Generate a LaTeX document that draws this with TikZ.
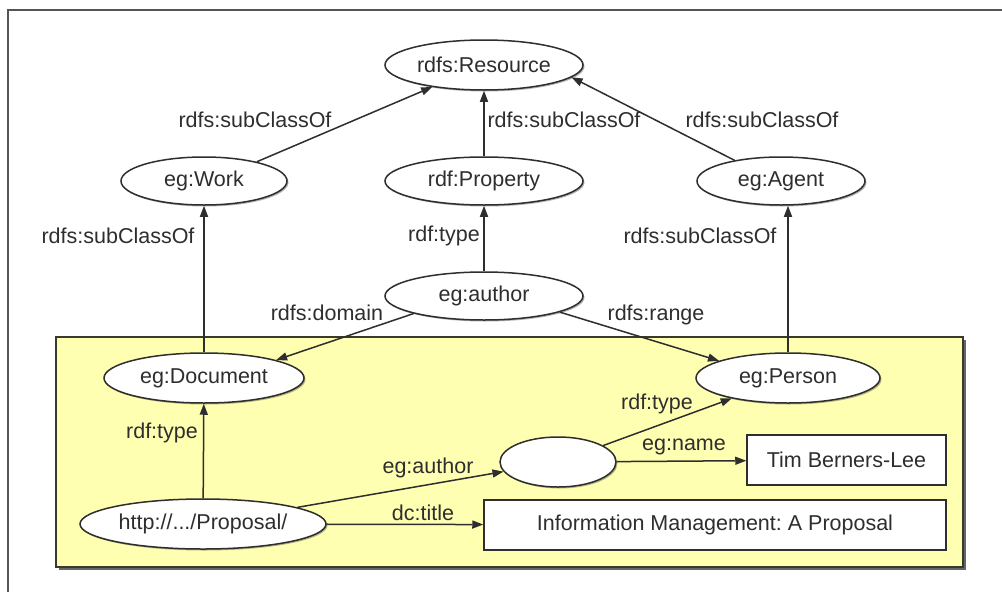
\documentclass[tikz,border=0pt]{standalone}
\usepackage{fontspec}
\setmainfont{Liberation Sans}
\usetikzlibrary{shapes.geometric,arrows.meta,shadows}
\definecolor{ink}{HTML}{2E2E2E}
\definecolor{frame}{HTML}{555555}
\definecolor{paleyellow}{HTML}{FFFFB2}
\definecolor{boxedge}{HTML}{3A3A2A}
\begin{document}
\frenchspacing
\begin{tikzpicture}[x=1pt,y=-1pt,
  font=\fontsize{21.5}{25}\selectfont,
  cls/.style={ellipse, draw=ink, line width=1.5pt, fill=white, text=ink, inner sep=0pt,
    drop shadow={shadow xshift=1.5pt, shadow yshift=-1.5pt, opacity=0.3, fill=black}},
  lit/.style={rectangle, draw=ink, line width=1.5pt, fill=white, text=ink, inner sep=0pt},
  lbl/.style={text=ink, inner sep=0pt},
  arr/.style={draw=ink, line width=1.5pt, -{Triangle[length=11pt,width=8pt]}}]
\useasboundingbox (0,0) rectangle (1002,592);
\fill[white] (0,0) rectangle (1002,592);
% outer frame
\draw[frame, line width=1.2pt] (8,592) -- (8,10) -- (1002,10);

% yellow graph area with its shadow
\fill[black!60] (59,340) rectangle (966,570);
\draw[draw=boxedge, line width=1.5pt, fill=paleyellow] (56,337) rectangle (963,567);

% classes and resources
\node[cls, minimum width=198pt, minimum height=50pt] (res) at (484,65) {rdfs:Resource};
\node[cls, minimum width=166pt, minimum height=48pt] (work) at (204,181) {eg:Work};
\node[cls, minimum width=198pt, minimum height=48pt] (prop) at (484,181) {rdf:Property};
\node[cls, minimum width=168pt, minimum height=48pt] (agent) at (781,181) {eg:Agent};
\node[cls, minimum width=198pt, minimum height=48pt] (author) at (484,296) {eg:author};
\node[cls, minimum width=200pt, minimum height=50pt] (doc) at (204,378) {eg:Document};
\node[cls, minimum width=184pt, minimum height=50pt] (person) at (788,378) {eg:Person};
\node[cls, minimum width=116pt, minimum height=50pt] (blank) at (558,462) {};
\node[cls, minimum width=246pt, minimum height=50pt] (url) at (203,524) {http://.../Proposal/};
\node[lit, minimum width=199pt, minimum height=50pt] (tim) at (846.5,460) {Tim Berners-Lee};
\node[lit, minimum width=462pt, minimum height=50pt] (info) at (715,525) {Information Management: A Proposal};

% schema edges
\draw[arr] (work.20) -- (res.203);
\draw[arr] (prop) -- (res);
\draw[arr] (agent.156) -- (res.-8);
\draw[arr] (doc) -- (work);
\draw[arr] (person.north) -- (person.north |- agent.south);
\draw[arr] (author) -- (prop);
\draw[arr] (author.194) -- (doc.14);
\draw[arr] (author.-12) -- (person.166);

% instance edges
\draw[arr] (url) -- (doc);
\draw[arr] (url.10) -- (blank.190);
\draw[arr] (url) -- (info);
\draw[arr] (blank.20) -- (person.200);
\draw[arr] (blank) -- (tim);

% edge labels
\node[lbl] (l1) at (255,120) {rdfs:subClassOf};
\node[lbl] (l2) at (564,120) {rdfs:subClassOf};
\node[lbl] (l3) at (762,120) {rdfs:subClassOf};
\node[lbl] (l4) at (118,236) {rdfs:subClassOf};
\node[lbl] (l5) at (444,236) {rdf:type};
\node[lbl] (l6) at (700,236) {rdfs:subClassOf};
\node[lbl] (l7) at (327,313) {rdfs:domain};
\node[lbl] (l8) at (656,315) {rdfs:range};
\node[lbl] (l9) at (162,433) {rdf:type};
\node[lbl] (l10) at (428,468) {eg:author};
\node[lbl] (l11) at (423,513) {dc:title};
\node[lbl] (l12) at (657,404) {rdf:type};
\node[lbl] (l13) at (684,447) {eg:name};
\end{tikzpicture}
\end{document}
